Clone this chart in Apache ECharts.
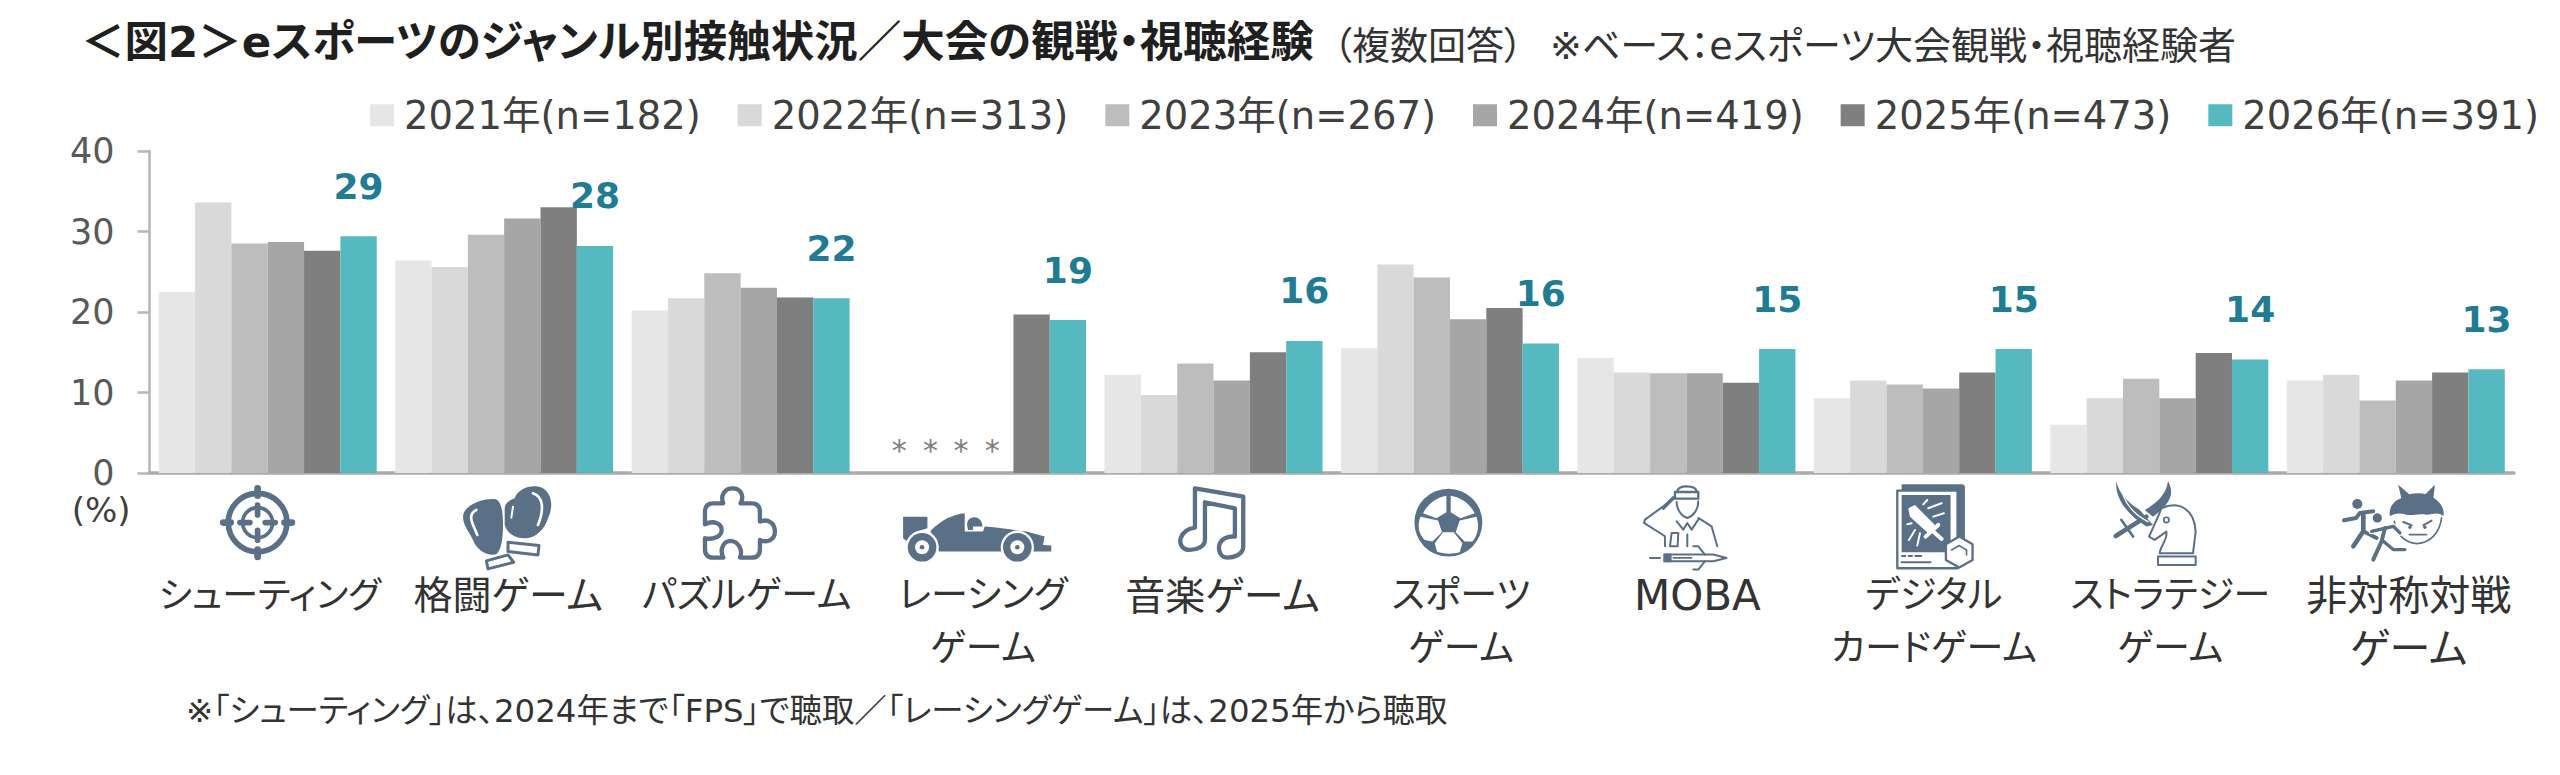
<!DOCTYPE html>
<html lang="ja"><head><meta charset="utf-8">
<script src="https://cdn.jsdelivr.net/npm/echarts@6/dist/echarts.min.js"></script>
<style>
html,body{margin:0;padding:0;background:#fff}
#c{width:2560px;height:775px}
#c text{font-feature-settings:"palt" 1 !important}
</style></head><body><div id="c"></div>
<script>
const categories=['シューティング','格闘ゲーム','パズルゲーム','レーシング\nゲーム','音楽ゲーム','スポーツ\nゲーム','MOBA','デジタル\nカードゲーム','ストラテジー\nゲーム','非対称対戦\nゲーム'];
const years=['2021年(n=182)','2022年(n=313)','2023年(n=267)','2024年(n=419)','2025年(n=473)','2026年(n=391)'];
const v2021=[22.5,26.4,20.2,null,12.2,15.5,14.3,9.3,6.0,11.5];
const v2022=[33.6,25.6,21.7,null,9.7,25.9,12.5,11.5,9.3,12.2];
const v2023=[28.5,29.6,24.8,null,13.6,24.3,12.4,11.0,11.7,9.0];
const v2024=[28.7,31.6,23.0,null,11.5,19.1,12.4,10.5,9.3,11.5];
const v2025=[27.6,33.0,21.8,19.7,15.0,20.5,11.2,12.5,14.9,12.5];
const v2026=[29.4,28.2,21.7,19.0,16.4,16.1,15.4,15.4,14.1,12.9];
const yTicks=[0,10,20,30,40];
const noDataMark='*';
const titleText='＜図2＞eスポーツのジャンル別接触状況／大会の観戦・視聴経験';
const noteText='（複数回答）';
const baseText='※ベース：eスポーツ大会観戦・視聴経験者';
const footText='※「シューティング」は、2024年まで「FPS」で聴取／「レーシングゲーム」は、2025年から聴取';

const colors=['#E6E6E6','#D9D9D9','#BDBDBD','#A6A6A6','#7F7F7F','#56B9BF'];
const FONT='"DejaVu Sans","Noto Sans CJK JP",sans-serif';
const C='#5A7086';
const starShift=[13,8,2,-3];
const labelSizes=[36,39,37,37,40,37,42,37,37,41];
const labelShift=[2,4,6,6,9,11,11,11,11,13];

const circ=(x,y,r)=>`M ${x-r} ${y} a ${r} ${r} 0 1 0 ${2*r} 0 a ${r} ${r} 0 1 0 ${-2*r} 0 Z`;
const F=(d,fill=C)=>({type:'path',shape:{pathData:d},style:{fill:fill,stroke:'none'}});
const S=(d,w,stroke=C,fill='none')=>({type:'path',shape:{pathData:d},style:{fill:fill,stroke:stroke,lineWidth:w,lineJoin:'round',lineCap:'round'}});

const icons=[
{x:180,y:475,parts:[ // target
 S(circ(233,143,88),17),S(circ(233,143,45),11),
 S('M 233 40 L 233 62',20),S('M 233 224 L 233 246',20),S('M 130 143 L 152 143',20),S('M 314 143 L 336 143',20),
 S('M 233 90 L 233 120',17),S('M 233 166 L 233 196',17),S('M 180 143 L 210 143',17),S('M 256 143 L 286 143',17)]},
{x:180,y:475,parts:[ // gloves
 F('M 850 125 C 850 95 900 70 945 72 C 965 75 970 110 970 150 C 970 190 965 225 950 238 C 925 245 890 225 880 195 C 865 165 850 150 850 125 Z'),
 S('M 890 105 C 870 115 872 130 880 150 L 893 180',8,'#fff'),
 S('M 920 258 L 985 240 L 1002 262 L 925 282 Z',9),
 F('M 975 100 C 975 85 990 75 1005 70 C 1015 40 1060 25 1090 40 C 1120 60 1120 100 1105 130 C 1095 165 1065 190 1040 190 C 1010 190 985 180 975 150 Z'),
 S('M 1060 55 C 1090 65 1095 100 1075 150',8,'#fff'),S('M 1000 95 L 995 128',6,'#fff'),
 S('M 985 202 L 1078 212 L 1075 240 L 985 230 Z',9)]},
{x:680,y:475,parts:[ // puzzle
 S('M 130 85 C 120 60 135 40 158 40 C 180 40 195 60 182 85 L 215 85 Q 240 85 240 110 L 240 140 C 265 130 285 145 285 170 C 285 195 262 205 240 195 L 240 222 Q 240 248 215 248 L 180 248 C 190 225 175 198 150 198 C 130 200 118 225 130 248 L 100 248 Q 75 248 75 222 L 75 190 C 100 195 125 185 125 165 C 125 145 100 135 75 148 L 75 110 Q 75 85 100 85 Z',13)]},
{x:680,y:475,parts:[ // car
 F('M 670 125 L 743 125 L 743 160 L 705 172 L 680 198 L 670 190 Z'),
 F('M 752 168 C 785 135 820 118 855 115 L 855 170 L 910 170 L 915 155 C 960 158 1000 165 1040 170 L 1095 185 L 1090 210 L 1115 212 L 1115 230 L 1065 230 L 965 230 L 778 230 Z'),
 F('M 862 150 C 862 130 880 122 895 130 C 905 135 910 150 908 155 L 880 155 L 880 165 L 865 165 Z'),
 F(circ(727,217,50),'#fff'),F(circ(727,217,43)),F(circ(727,217,21),'#fff'),F(circ(727,217,7)),
 F(circ(1013,217,50),'#fff'),F(circ(1013,217,43)),F(circ(1013,217,21),'#fff'),F(circ(1013,217,7))]},
{x:1150,y:475,parts:[ // music
 S('M 135 158 L 135 40 L 280 65 L 280 215 C 280 240 250 248 232 248 C 210 248 205 225 208 210 C 215 190 235 183 255 185 L 255 100 L 165 82 L 165 195 C 165 215 140 225 120 225 C 95 225 88 205 92 190 C 100 165 120 160 135 158 Z',13)]},
{x:1150,y:475,parts:[ // ball
 F(circ(896,143,102)),
 F('M 890 62 L 890 112 L 860 130 L 820 115 C 835 85 860 68 890 62 Z','#fff'),
 F('M 903 62 C 935 68 960 85 975 115 L 932 130 L 903 112 Z','#fff'),
 F('M 980 125 C 990 150 985 180 968 200 L 945 200 L 918 172 L 930 137 Z','#fff'),
 F('M 812 125 L 865 137 L 877 172 L 848 200 L 825 195 C 805 175 803 150 812 125 Z','#fff'),
 F('M 880 172 L 912 172 L 938 205 L 930 232 C 910 238 880 238 862 230 L 855 205 Z','#fff')]},
{x:1630,y:478,parts:[ // soldier
 S('M 135 42 L 205 42 L 205 62 L 135 62 Z',7),S('M 142 40 Q 145 25 170 25 Q 198 25 200 40',7),
 S('M 140 72 C 140 95 155 115 172 120 C 190 115 205 95 205 70',6),
 S('M 130 62 L 100 85 L 45 125 L 42 135 L 105 175 L 105 205',6),S('M 130 60 L 100 90',11),
 S('M 205 120 L 245 145 L 262 205',6),
 S('M 140 130 L 160 155 L 172 135 L 185 155 L 205 125',6),
 S('M 125 165 L 145 165 L 143 205 L 120 205 Z',6),S('M 172 170 L 172 205',6),
 S('M 105 230 L 250 230 L 290 240 L 250 250 L 105 250 Z',6),
 F('M 100 227 L 125 227 L 125 253 L 100 253 Z'),S('M 130 240 L 185 240',5),
 S('M 190 205 L 205 205 L 225 230',6),S('M 190 275 L 205 275 L 225 250',6),
 S('M 60 240 L 90 240',6)]},
{x:1860,y:475,parts:[ // card
 F('M 125 28 L 305 28 Q 315 28 315 38 L 315 235 L 125 235 Z'),
 S('M 112 47 L 293 47 L 293 280 L 112 280 Z',7,C,'#fff'),
 F('M 125 60 L 272 60 L 272 232 L 125 232 Z'),
 F('M 145 100 L 165 90 L 225 150 L 205 175 L 150 125 Z','#fff'),
 S('M 197 185 L 235 150',12,'#fff'),S('M 220 170 L 245 192',12,'#fff'),
 S('M 205 100 L 245 85',6,'#fff'),S('M 220 125 L 252 115',6,'#fff'),S('M 190 88 L 202 75',6,'#fff'),
 S('M 142 148 L 155 145',6,'#fff'),S('M 147 195 L 165 165',6,'#fff'),S('M 172 212 L 180 175',6,'#fff'),
 S('M 126 243 L 136 243 M 146 243 L 156 243 M 166 243 L 184 243',6),S('M 125 262 L 212 262',6),
 S('M 298 185 L 338 208 L 338 255 L 298 278 L 258 255 L 258 208 Z',7,C,'#fff'),
 S('M 275 225 L 298 212 L 320 225 L 320 240',5)]},
{x:1860,y:475,parts:[ // knight
 F('M 925 18 C 945 55 930 80 905 105 L 880 125 L 855 105 C 890 85 920 60 925 18 Z'),
 S('M 768 183 L 860 125',14),S('M 785 135 L 820 185',8),
 F('M 770 18 C 765 60 790 110 860 155 L 880 150 L 840 105 C 800 80 775 50 770 18 Z'),
 S('M 790 60 C 805 100 835 125 865 140',4,'#fff'),
 S('M 905 100 C 960 75 1005 105 1008 170 L 1000 235 L 900 235 C 900 215 925 195 920 170 L 885 195 L 868 185 L 895 125 Z',6,C,'#fff'),
 S(circ(920,135,8),5),
 S('M 895 245 L 1008 245 L 1008 270 L 895 270 Z',6)]},
{x:2330,y:478,parts:[ // runners and oni
 F('M 205 20 L 240 50 L 215 65 Z'),F('M 315 20 L 285 50 L 310 65 Z'),
 F('M 180 115 C 175 90 190 70 210 62 C 240 40 290 40 315 62 C 335 75 345 95 340 115 C 325 100 310 110 290 110 C 265 105 245 115 230 110 C 210 105 195 105 180 115 Z'),
 S('M 193 130 C 200 175 230 195 262 197 C 300 195 330 165 335 120',5),
 S('M 220 132 L 245 142',6),S('M 305 128 L 280 142',6),F(circ(240,148,5)),F(circ(285,148,5)),S('M 238 170 L 290 170',5),
 F(circ(82,78,15)),
 S('M 42 127 L 78 120 L 90 105 L 130 100',12),S('M 100 110 L 100 160 L 70 205',14),S('M 100 160 L 140 180',12),
 S('M 125 160 L 190 145 L 210 165',18,'#fff'),S('M 165 150 L 155 190 L 130 245',20,'#fff'),
 F(circ(142,120,14)),
 S('M 125 160 L 190 145 L 210 165',10),S('M 165 150 L 155 190 L 130 245',12),S('M 160 190 L 190 215 L 225 215',10)]}
];

const seriesValues=[v2021,v2022,v2023,v2024,v2025,v2026];
const chart=echarts.init(document.getElementById('c'),null,{renderer:'svg'});
const barSeries=seriesValues.map((vals,s)=>({
  name:years[s],type:'bar',barGap:0,barCategoryGap:'7.8%',
  itemStyle:{color:colors[s]},
  data:vals.map(v=>v===null?{value:0,label:{show:true,formatter:noDataMark,position:'top',distance:8,offset:[starShift[s],0],
    color:'#7F7F7F',fontFamily:FONT,fontSize:30,fontWeight:'normal'}}:v),
  label:s===5?{show:true,position:'top',distance:32,color:'#217C93',fontFamily:FONT,fontSize:36,fontWeight:'bold',
    formatter:p=>Math.round(p.value)}:{show:false},
  silent:true,animation:false
}));
chart.setOption({
  animation:false,backgroundColor:'#fff',
  title:[
   {text:titleText,left:81,top:20,padding:0,textStyle:{fontFamily:FONT,fontSize:43.5,fontWeight:'bold',color:'#1F1F1F'}},
   {text:noteText,left:1333,top:27,padding:0,textStyle:{fontFamily:FONT,fontSize:38,fontWeight:'normal',color:'#333'}},
   {text:baseText,left:1550,top:27,padding:0,textStyle:{fontFamily:FONT,fontSize:38,fontWeight:'normal',color:'#333'}},
   {text:footText,left:186,top:695,padding:0,textStyle:{fontFamily:FONT,fontSize:32.4,fontWeight:'normal',color:'#333'}}
  ],
  legend:{data:years,left:370,top:96,padding:0,icon:'rect',itemWidth:24,itemHeight:22,itemGap:37,selectedMode:false,
    textStyle:{fontFamily:FONT,fontSize:38.5,color:'#404040',padding:[0,0,0,5]}},
  grid:{left:149.5,right:46,top:151,bottom:302,containLabel:false},
  xAxis:{type:'category',
    data:categories.map((c,i)=>({value:c,textStyle:{fontSize:labelSizes[i],padding:[0,0,0,2*labelShift[i]]}})),
    axisLine:{lineStyle:{color:'#ABABAB',width:3.5}},axisTick:{show:false},
    axisLabel:{interval:0,margin:96,lineHeight:53,fontFamily:FONT,fontSize:42,color:'#333',hideOverlap:false}},
  yAxis:{type:'value',min:yTicks[0],max:yTicks[yTicks.length-1],interval:10,
    name:'(%)',nameLocation:'start',nameGap:20,
    nameTextStyle:{fontFamily:FONT,fontSize:34,color:'#404040',align:'right',verticalAlign:'top',padding:[0,19,0,0]},
    splitLine:{show:false},
    axisLine:{show:true,lineStyle:{color:'#B5B5B5',width:2.5}},
    axisTick:{show:true,length:12,lineStyle:{color:'#B5B5B5',width:2.5}},
    axisLabel:{margin:35,fontFamily:FONT,fontSize:35,color:'#595959'}},
  series:[...barSeries,{
    type:'custom',coordinateSystem:'cartesian2d',silent:true,clip:false,z:5,
    data:categories.map((_,i)=>[i,0]),
    renderItem:(p,api)=>{const ic=icons[api.value(0)];
      return {type:'group',x:ic.x,y:ic.y,scaleX:1/3,scaleY:1/3,children:ic.parts};}
  }]
});
</script></body></html>
